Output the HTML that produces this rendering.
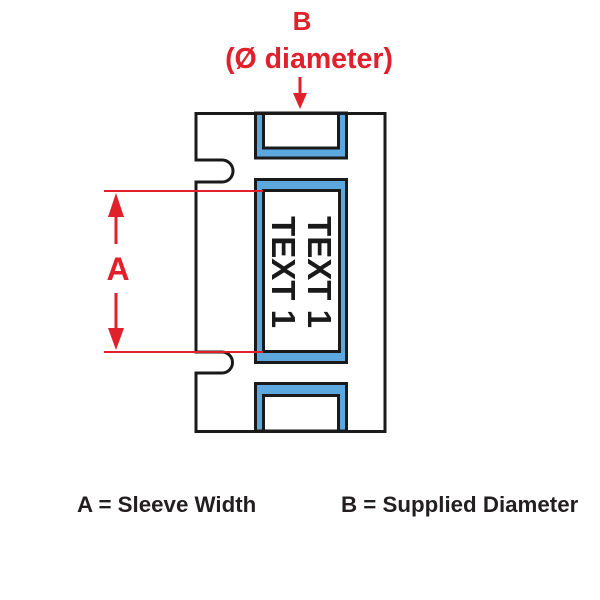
<!DOCTYPE html>
<html><head><meta charset="utf-8"><style>
html,body{margin:0;padding:0;background:#fff;}
svg{display:block;}
</style></head><body>
<svg width="600" height="600" viewBox="0 0 600 600" xmlns="http://www.w3.org/2000/svg">
<rect width="600" height="600" fill="#fff"/>
<!-- outer sleeve outline with notches -->
<path d="M196,113.5 H385 V431.5 H196 V373 H222 A10.5,10.5 0 0 0 222,352 H196 V182 H222 A10.5,10.5 0 0 0 222,160 H196 Z" fill="#fff" stroke="#1a1a1a" stroke-width="3" stroke-linejoin="miter"/>
<!-- top U -->
<path d="M255.5,113 V158 H346.5 V113 Z" fill="#5ca8de" stroke="#1a1a1a" stroke-width="3"/>
<path d="M263.5,113 V148 H338.5 V113 Z" fill="#fff" stroke="#1a1a1a" stroke-width="3"/>
<!-- middle box -->
<rect x="255.5" y="179.5" width="91" height="183" fill="#5ca8de" stroke="#1a1a1a" stroke-width="3"/>
<rect x="263.5" y="190.5" width="76" height="161" fill="#fff" stroke="#1a1a1a" stroke-width="3"/>
<!-- bottom U -->
<path d="M255.5,431 V383.5 H346.5 V431 Z" fill="#5ca8de" stroke="#1a1a1a" stroke-width="3"/>
<path d="M263.5,431 V395.5 H338.5 V431 Z" fill="#fff" stroke="#1a1a1a" stroke-width="3"/>
<!-- redraw outer border top/bottom over Us -->
<line x1="196" y1="113.5" x2="385" y2="113.5" stroke="#1a1a1a" stroke-width="3"/>
<line x1="196" y1="431.5" x2="385" y2="431.5" stroke="#1a1a1a" stroke-width="3"/>
<!-- rotated text -->
<g font-family="'Liberation Sans', Arial, sans-serif" font-weight="bold" font-size="33" fill="#1a1a1a">
<text transform="translate(308,272) rotate(90)" text-anchor="middle">TEXT 1</text>
<text transform="translate(272,272) rotate(90)" text-anchor="middle">TEXT 1</text>
</g>
<!-- red dimension lines -->
<line x1="104" y1="191" x2="263" y2="191" stroke="#e0202b" stroke-width="2"/>
<line x1="104" y1="352" x2="263" y2="352" stroke="#e0202b" stroke-width="2"/>
<line x1="116" y1="212" x2="116" y2="244" stroke="#e0202b" stroke-width="3"/>
<polygon points="116,193 108,217 124,217" fill="#e0202b"/>
<line x1="116" y1="293" x2="116" y2="332" stroke="#e0202b" stroke-width="3"/>
<polygon points="116,350 108,328 124,328" fill="#e0202b"/>
<text x="118" y="280" text-anchor="middle" font-family="'Liberation Sans', Arial, sans-serif" font-weight="bold" font-size="32" fill="#e0202b">A</text>
<!-- top label -->
<text x="302" y="30" text-anchor="middle" font-family="'Liberation Sans', Arial, sans-serif" font-weight="bold" font-size="26" fill="#e0202b">B</text>
<text x="309" y="68" text-anchor="middle" font-family="'Liberation Sans', Arial, sans-serif" font-weight="bold" font-size="28.5" fill="#e0202b">(Ø diameter)</text>
<line x1="300" y1="77" x2="300" y2="96" stroke="#e0202b" stroke-width="3"/>
<polygon points="300,109 293,93 307,93" fill="#e0202b"/>
<!-- legend -->
<g font-family="'Liberation Sans', Arial, sans-serif" font-weight="bold" font-size="22.3" fill="#231f20">
<text x="77" y="512">A = Sleeve Width</text>
<text x="341" y="512">B = Supplied Diameter</text>
</g>
</svg>
</body></html>
